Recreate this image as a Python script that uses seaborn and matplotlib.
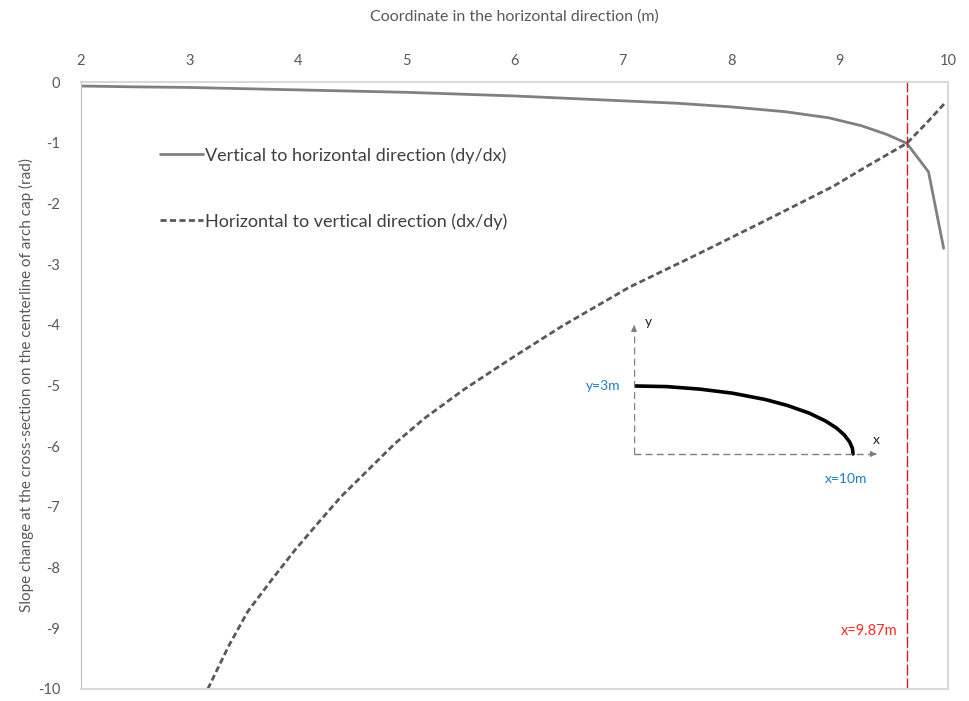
"""Slope change along the arch cap centerline, recreated with seaborn."""
import matplotlib
matplotlib.use('Agg')
import matplotlib.pyplot as plt
import pandas as pd
import seaborn as sns

# dy/dx along the centerline
x_dydx = [2.0, 2.5, 3.0, 3.5, 4.0, 4.5, 5.0, 5.5, 6.0, 6.5, 7.0, 7.5, 8.0,
          8.5, 8.9, 9.2, 9.43, 9.62, 9.82, 9.96]
y_dydx = [-0.066, -0.08, -0.09, -0.11, -0.13, -0.15, -0.17, -0.2, -0.23, -0.27,
          -0.31, -0.35, -0.41, -0.49, -0.59, -0.72, -0.86, -1.01, -1.48, -2.74]

# dx/dy along the centerline
x_dxdy = [3.17, 3.36, 3.54, 3.76, 3.97, 4.19, 4.40, 4.65, 4.90, 5.17, 5.53,
          5.99, 6.45, 7.06, 7.71, 8.33, 8.94, 9.25, 9.62, 9.80, 9.97]
y_dxdy = [-10.0, -9.3, -8.72, -8.20, -7.72, -7.26, -6.83, -6.39, -5.95, -5.54,
          -5.07, -4.53, -4.01, -3.38, -2.82, -2.27, -1.72, -1.39, -1.01, -0.68, -0.35]

# arch sketch in the inset (x in m, y in m)
arch_x = [0, 1.5, 3, 4.5, 6, 7, 8, 8.75, 9.25, 9.6, 9.85, 9.97, 10]
arch_y = [3.0, 2.97, 2.86, 2.68, 2.4, 2.14, 1.8, 1.45, 1.14, 0.84, 0.52, 0.25, 0]

x_ticks = [2, 3, 4, 5, 6, 7, 8, 9, 10]
y_ticks = [0, -1, -2, -3, -4, -5, -6, -7, -8, -9, -10]
x_mark = 9.62  # where the two curves cross
labels = ['Vertical to horizontal direction (dy/dx)',
          'Horizontal to vertical direction (dx/dy)']

sns.set_style('white')
plt.rcParams['font.family'] = ['Lato', 'DejaVu Sans']
plt.rcParams['axes.unicode_minus'] = False

fig = plt.figure(figsize=(9.7, 7.01), dpi=100)
ax = fig.add_axes([81 / 970, 1 - 689 / 701, 867 / 970, 607 / 701])

df1 = pd.DataFrame({'x': x_dydx, 'y': y_dydx})
df2 = pd.DataFrame({'x': x_dxdy, 'y': y_dxdy})
sns.lineplot(data=df1, x='x', y='y', ax=ax, color='#808080', lw=2,
             label=labels[0], sort=False)
sns.lineplot(data=df2, x='x', y='y', ax=ax, color='#595959', lw=2,
             linestyle=(0, (2.2, 1.2)), label=labels[1], sort=False)

ax.axvline(x_mark, color='#d61a24', lw=1.0, linestyle=(0, (8, 2)))
ax.text(x_mark - 0.09, -9.05, 'x=9.87m', color='#ff2a2a', fontsize=10.5,
        ha='right', va='center')

ax.set_xlim(2, 10)
ax.set_ylim(-10, 0)
ax.set_xticks(x_ticks)
ax.set_yticks(y_ticks)
ax.xaxis.tick_top()
ax.xaxis.set_label_position('top')
ax.tick_params(axis='both', length=0, labelsize=10.5, labelcolor='#595959')
ax.tick_params(axis='x', pad=10)
ax.tick_params(axis='y', pad=15)
ax.set_xlabel('Coordinate in the horizontal direction (m)', fontsize=11.5,
              color='#595959', labelpad=24)
ax.set_ylabel('Slope change at the cross-section on the centerline of arch cap (rad)',
              fontsize=11, color='#595959', labelpad=3)
for side in ['top', 'right', 'bottom']:
    ax.spines[side].set_color('#d9d9d9')
    ax.spines[side].set_linewidth(1.5)
ax.spines['left'].set_color('#bfbfbf')

leg = ax.legend(loc='upper left', bbox_to_anchor=(0.091, 0.893), frameon=False,
                fontsize=13, labelspacing=2.75, handlelength=2.4,
                handletextpad=0.1, borderaxespad=0, borderpad=0)
for t in leg.get_texts():
    t.set_color('#404040')

# inset sketch of the arch
ins = fig.add_axes([634 / 970, 1 - 456 / 701, 246 / 970, 134 / 701])
ins.set_xlim(0, 11.23)
ins.set_ylim(-0.09, 5.82)
ins.axis('off')
sns.lineplot(x=arch_x, y=arch_y, ax=ins, color='black', lw=2.6, sort=False)
ins.plot([0, 11.1], [0, 0], color='#7f7f7f', lw=1, linestyle=(0, (5, 3)))
ins.plot([0, 0], [0, 5.7], color='#7f7f7f', lw=1, linestyle=(0, (5, 3)))
ins.annotate('', xy=(11.2, 0), xytext=(10.9, 0),
             arrowprops=dict(arrowstyle='-|>', color='#7f7f7f', lw=1, mutation_scale=8))
ins.annotate('', xy=(0, 5.8), xytext=(0, 5.4),
             arrowprops=dict(arrowstyle='-|>', color='#7f7f7f', lw=1, mutation_scale=8))
ins.text(0.5, 5.8, 'y', fontsize=10, color='#222222', va='center', ha='left')
ins.text(10.9, 0.6, 'x', fontsize=10, color='#222222', va='center', ha='left')
ins.text(-0.6, 3.0, 'y=3m', fontsize=10, color='#1f7ec8', va='center', ha='right')
ins.text(9.7, -1.1, 'x=10m', fontsize=10, color='#1f7ec8', va='center', ha='center',
         clip_on=False)

fig.savefig('out.png', dpi=100)
